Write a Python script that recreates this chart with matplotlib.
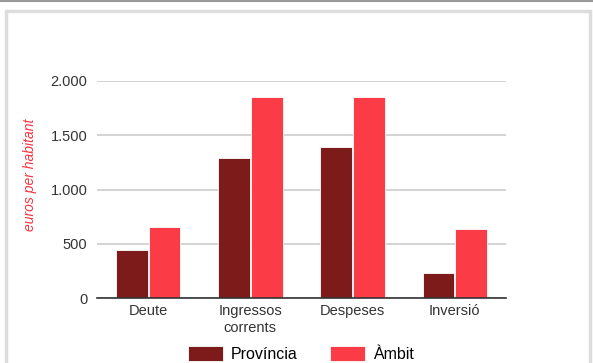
import numpy as np
import matplotlib.pyplot as plt
from matplotlib.patches import Rectangle
from matplotlib.lines import Line2D

plt.rcParams['font.family'] = ['Liberation Sans', 'DejaVu Sans']

categories = ['Deute', 'Ingressos\ncorrents', 'Despeses', 'Inversió']
provincia = [445, 1290, 1395, 230]
ambit = [655, 1850, 1850, 640]
series_names = ['Província', 'Àmbit']
yticks = [0, 500, 1000, 1500, 2000]
ytick_labels = ['0', '500', '1.000', '1.500', '2.000']

c_prov = '#7d1a1a'
c_amb = '#fb3c47'

fig = plt.figure(figsize=(5.93, 3.63), dpi=100)

# marc de la pàgina
fig.add_artist(Line2D([0, 1], [0.998, 0.998], transform=fig.transFigure, color='#9a9a9a', lw=1.5))
fig.add_artist(Rectangle((6 / 593, -0.05), 584 / 593, 1.05 - 11 / 363, transform=fig.transFigure,
                         fill=False, edgecolor='#dddddd', lw=2.5))

ax = fig.add_axes([97 / 593, 65 / 363, 409 / 593, 217 / 363])
x = np.arange(len(categories))
w = 0.31
ax.bar(x - w / 2 - 0.005, provincia, w, color=c_prov, edgecolor='white', lw=0.6, label=series_names[0], zorder=3)
ax.bar(x + w / 2 + 0.005, ambit, w, color=c_amb, edgecolor='white', lw=0.6, label=series_names[1], zorder=3)

ax.set_xlim(-0.5, len(categories) - 0.5)
ax.set_ylim(0, 2000)
ax.set_yticks(yticks)
ax.set_yticklabels(ytick_labels)
ax.set_xticks(x)
ax.set_xticklabels(categories, linespacing=1.3)
ax.tick_params(axis='both', length=0, labelsize=10.5, colors='#333333')
ax.tick_params(axis='y', pad=7)
ax.tick_params(axis='x', pad=4)
ax.grid(axis='y', color='#cccccc', lw=1.2, zorder=0)
for s in ['top', 'right', 'left']:
    ax.spines[s].set_visible(False)
ax.spines['bottom'].set_color('#333333')
ax.spines['bottom'].set_linewidth(1.2)
ax.spines['bottom'].set_zorder(4)

fig.text(30 / 593, 1 - 175 / 363, 'euros per habitant', rotation=90, style='italic',
         color='#f5333f', fontsize=10, ha='center', va='center')

fig.legend(loc='center', bbox_to_anchor=(301 / 593, 9 / 363), ncol=2, frameon=False,
           fontsize=11.5, handlelength=2.2, handleheight=1.1, columnspacing=2.0, handletextpad=0.5,
           borderpad=0, borderaxespad=0)

fig.savefig('out.png', dpi=100)
